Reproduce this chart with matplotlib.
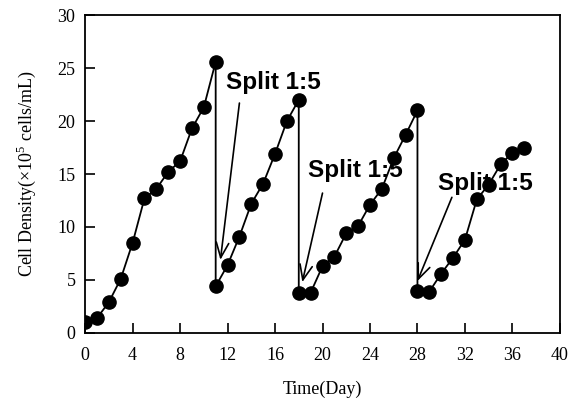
import matplotlib
matplotlib.use("Agg")
import matplotlib.pyplot as plt

plt.rcParams['font.family'] = ['Liberation Serif', 'DejaVu Serif']
plt.rcParams['mathtext.fontset'] = 'custom'
plt.rcParams['mathtext.rm'] = 'Liberation Serif'

# day, density (x10^5 cells/mL); splits repeat the day with the post-split value
days = [0, 1, 2, 3, 4, 5, 6, 7, 8, 9, 10, 11,
        11, 12, 13, 14, 15, 16, 17, 18,
        18, 19, 20, 21, 22, 23, 24, 25, 26, 27, 28,
        28, 29, 30, 31, 32, 33, 34, 35, 36, 37]
density = [1.0, 1.4, 2.9, 5.1, 8.5, 12.7, 13.6, 15.2, 16.2, 19.3, 21.3, 25.6,
           4.4, 6.4, 9.1, 12.2, 14.1, 16.9, 20.0, 22.0,
           3.8, 3.8, 6.3, 7.2, 9.4, 10.1, 12.1, 13.6, 16.5, 18.7, 21.0,
           4.0, 3.9, 5.6, 7.1, 8.8, 12.6, 14.0, 15.9, 17.0, 17.5]

split_label = "Split 1:5"
label_pos = [(11.9, 23.0), (18.8, 14.7), (29.7, 13.5)]
arrow_start = [(13.0, 21.7), (20.0, 13.2), (30.9, 12.8)]
arrow_tip = [(11.4, 6.9), (18.3, 4.8), (28.0, 4.9)]

fig = plt.figure(figsize=(5.79, 4.09), dpi=100)
ax = fig.add_axes([0.147, 0.186, 0.82, 0.777])

ax.plot(days, density, color='black', lw=1.3, marker='o', ms=9.5,
        markerfacecolor='black', markeredgecolor='black', zorder=3)

for (tx, ty), start, tip in zip(label_pos, arrow_start, arrow_tip):
    # labels sit under the data line, like the original
    ax.text(tx, ty, split_label, fontsize=17.5, fontweight='bold',
            family=['Liberation Sans', 'DejaVu Sans'], va='baseline', ha='left',
            zorder=1)
    ax.annotate('', xy=tip, xytext=start, zorder=2,
                arrowprops=dict(arrowstyle='->,head_length=0.6,head_width=0.25',
                                color='black', lw=1.2,
                                mutation_scale=18, shrinkA=0, shrinkB=0))

ax.set_xlim(0, 40)
ax.set_ylim(0, 30)
ax.set_xticks(range(0, 41, 4))
ax.set_yticks(range(0, 31, 5))
ax.tick_params(direction='in', length=7, width=1.2, labelsize=13,
               top=False, right=False)
ax.tick_params(axis='x', pad=10)
ax.tick_params(axis='y', pad=7)
for s in ax.spines.values():
    s.set_linewidth(1.3)

ax.set_xlabel('Time(Day)', fontsize=13, labelpad=12)
ax.set_ylabel(r'Cell Density($\times$10$^5$ cells/mL)', fontsize=13, labelpad=14)

fig.savefig('out.png', dpi=100)
